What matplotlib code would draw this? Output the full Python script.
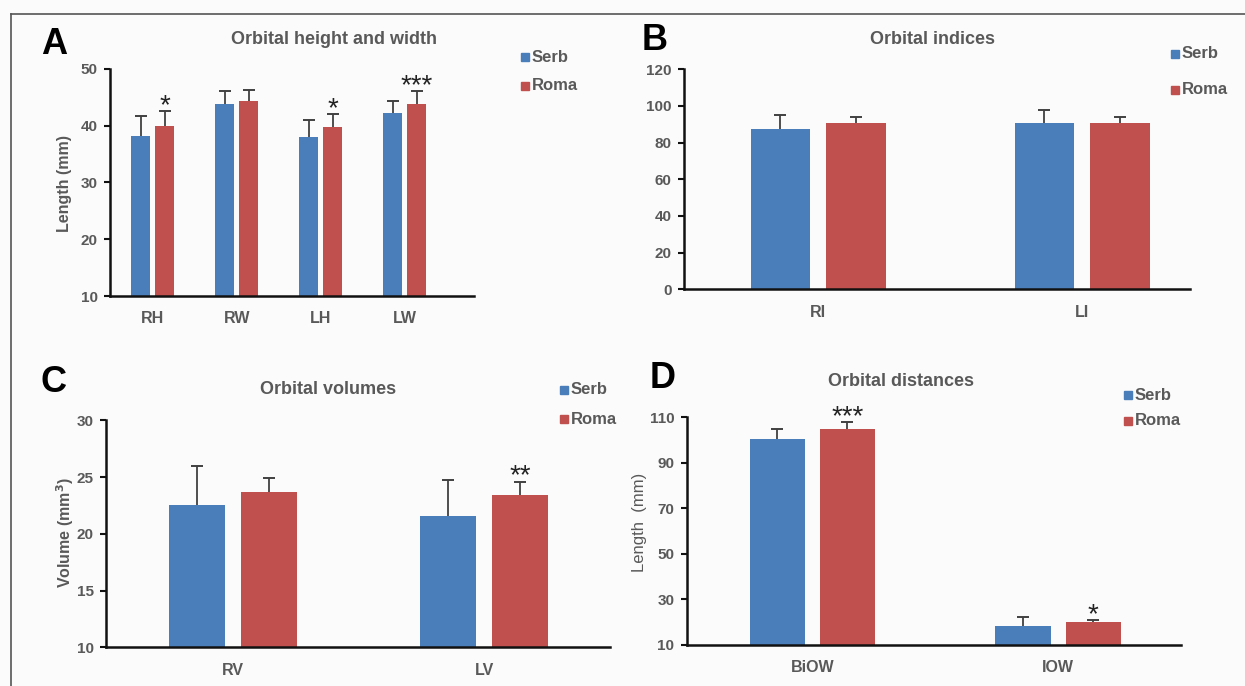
import matplotlib
matplotlib.use("Agg")
import matplotlib.pyplot as plt
from matplotlib.patches import Rectangle
from matplotlib.lines import Line2D
import numpy as np

plt.rcParams['font.family'] = ['Liberation Sans', 'DejaVu Sans']

# --- data ---
groups = ["Serb", "Roma"]

cats_A = ["RH", "RW", "LH", "LW"]
serb_A = [38.2, 43.8, 38.0, 42.2]
serb_A_err = [3.5, 2.3, 3.1, 2.2]
roma_A = [40.0, 44.4, 39.8, 43.9]
roma_A_err = [2.6, 1.9, 2.3, 2.2]
sig_A = ["*", "", "*", "***"]

cats_B = ["RI", "LI"]
serb_B = [87.3, 90.5]
serb_B_err = [7.8, 7.3]
roma_B = [90.5, 90.5]
roma_B_err = [3.3, 3.3]
sig_B = ["", ""]

cats_C = ["RV", "LV"]
serb_C = [22.5, 21.6]
serb_C_err = [3.5, 3.1]
roma_C = [23.7, 23.4]
roma_C_err = [1.2, 1.2]
sig_C = ["", "**"]

cats_D = ["BiOW", "IOW"]
serb_D = [100.3, 18.5]
serb_D_err = [4.4, 3.7]
roma_D = [104.7, 20.1]
roma_D_err = [3.4, 0.9]
sig_D = ["***", "*"]

BLUE = "#4a7ebb"
RED = "#c0504d"
GREY = "#595959"

W, H = 1245, 686
fig = plt.figure(figsize=(W / 100, H / 100), dpi=100, facecolor="#fbfbfb")


def px_axes(l, r, t, b):
    return fig.add_axes([l / W, 1 - b / H, (r - l) / W, (b - t) / H])


def ftext(x, y, s, **kw):
    fig.text(x / W, 1 - y / H, s, **kw)


def legend(x, y1, y2):
    for y, lab, col in [(y1, groups[0], BLUE), (y2, groups[1], RED)]:
        fig.patches.append(Rectangle((x / W, 1 - (y + 4) / H), 8 / W, 8 / H,
                                     transform=fig.transFigure, color=col))
        ftext(x + 11, y, lab, fontsize=12, fontweight="bold", color=GREY,
              va="center", ha="left")


def upper_err(ax, x, v, e):
    # one-sided error bars: stem from bar top, cap at the end only
    top = np.array(v) + np.array(e)
    ax.vlines(x, v, top, color="#404040", lw=1.3, zorder=3)
    ax.plot(x, top, ls="none", marker="_", ms=8, mew=1.4,
            color="#404040", zorder=3)


def panel(ax, cats, s, s_err, r, r_err, sig, ylim, yticks, xlim):
    x = np.arange(len(cats))
    w, off = 0.225, 0.143
    ax.bar(x - off, s, w, color=BLUE, zorder=2)
    ax.bar(x + off, r, w, color=RED, zorder=2)
    upper_err(ax, x - off, s, s_err)
    upper_err(ax, x + off, r, r_err)
    for xi, v, e, st in zip(x, r, r_err, sig):
        if st:
            ax.annotate(st, (xi + off, v + e), xytext=(0, -1.5),
                        textcoords="offset points", ha="center",
                        va="baseline", fontsize=20, color="#222222")
    ax.set_ylim(*ylim)
    ax.set_yticks(yticks)
    ax.set_xlim(*xlim)
    ax.set_xticks(x)
    ax.set_xticklabels(cats)
    ax.set_facecolor("none")
    for sp in ["top", "right"]:
        ax.spines[sp].set_visible(False)
    for sp in ["left", "bottom"]:
        ax.spines[sp].set_linewidth(1.8)
        ax.spines[sp].set_color("#111111")
    ax.tick_params(axis="x", length=0, pad=11, labelsize=11.5, labelcolor=GREY)
    ax.tick_params(axis="y", length=4, width=1.5, pad=5, labelsize=11,
                   labelcolor=GREY, color="#111111")
    for t in ax.get_xticklabels() + ax.get_yticklabels():
        t.set_fontweight("bold")


TITLE = dict(ha="center", va="center", fontsize=13, fontweight="bold",
             color=GREY)
LETTER = dict(ha="center", va="center", fontsize=26, fontweight="bold")

# A
axA = px_axes(110, 474.5, 69, 296)
panel(axA, cats_A, serb_A, serb_A_err, roma_A, roma_A_err, sig_A,
      (10, 50), range(10, 51, 10), (-0.51, 3.83))
ftext(65, 183, "Length (mm)", rotation=90, ha="center", va="center",
      fontsize=11.5, fontweight="bold", color=GREY)
ftext(334, 39, "Orbital height and width", **TITLE)
ftext(54, 45, "A", **LETTER)
legend(521, 57, 86)

# B
axB = px_axes(684, 1190.4, 69.3, 289.3)
panel(axB, cats_B, serb_B, serb_B_err, roma_B, roma_B_err, sig_B,
      (0, 120), range(0, 121, 20), (-0.508, 1.41))
ftext(933, 40, "Orbital indices", **TITLE)
ftext(655, 41, "B", **LETTER)
legend(1171, 54, 90)

# C
axC = px_axes(106, 610, 420.3, 647.3)
panel(axC, cats_C, serb_C, serb_C_err, roma_C, roma_C_err, sig_C,
      (10, 30), range(10, 31, 5), (-0.506, 1.502))
ftext(65, 533, "Volume (mm$^\\mathbf{3}$)", rotation=90, ha="center",
      va="center", fontsize=11.5, fontweight="bold", color=GREY)
ftext(328, 390, "Orbital volumes", **TITLE)
ftext(53, 383, "C", **LETTER)
legend(560, 390, 419)

# D
axD = px_axes(687, 1181, 417.3, 645)
panel(axD, cats_D, serb_D, serb_D_err, roma_D, roma_D_err, sig_D,
      (10, 110), range(10, 111, 20), (-0.51, 1.5))
ftext(640, 522, "Length  (mm)", rotation=90, ha="center", va="center",
      fontsize=12, color=GREY)
ftext(901, 382, "Orbital distances", **TITLE)
ftext(663, 379, "D", **LETTER)
legend(1124, 395, 421)

# outer frame (top and left edges)
fig.lines.append(Line2D([10.5 / W, 1], [1 - 13.5 / H, 1 - 13.5 / H],
                        transform=fig.transFigure, color="#555555", lw=1.2))
fig.lines.append(Line2D([10.5 / W, 10.5 / W], [0, 1 - 13.5 / H],
                        transform=fig.transFigure, color="#555555", lw=1.2))

fig.savefig("out.png", dpi=100, facecolor=fig.get_facecolor())
